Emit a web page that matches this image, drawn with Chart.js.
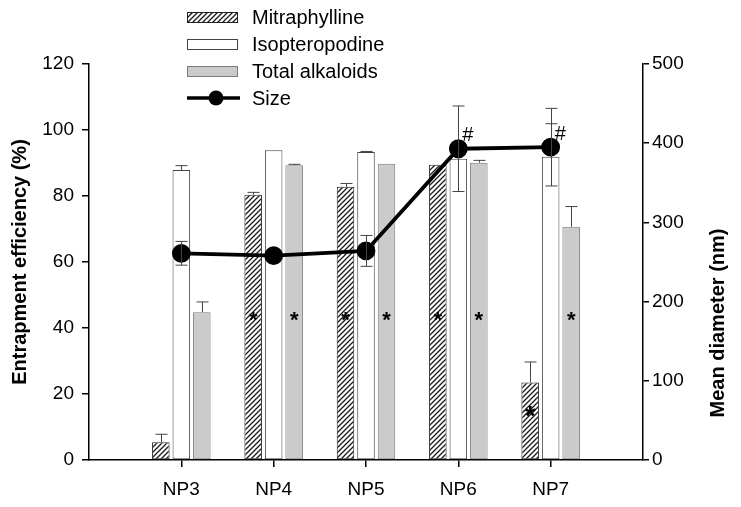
<!DOCTYPE html>
<html>
<head>
<meta charset="utf-8">
<script src="https://cdn.jsdelivr.net/npm/chart.js@4.4.0/dist/chart.umd.min.js"></script>
<style>
  html, body { margin: 0; padding: 0; background: #fff; }
  #wrap { width: 741px; height: 507px; position: relative; }
</style>
</head>
<body>
<div id="wrap"><canvas id="myChart"></canvas></div>
<script>
(function () {
    "use strict";

    // values
    const categories = ['NP3', 'NP4', 'NP5', 'NP6', 'NP7'];
    const mitraphylline = [5.4, 80.4, 82.8, 89.5, 23.5];
    const mitraphyllineErr = [2.4, 0.7, 1.0, 0, 6.2];
    const isopteropodine = [87.9, 93.9, 93.3, 91.3, 91.9];
    const isopteropodineErr = [1.3, 0, 0.2, 0, 10];
    const totalAlkaloids = [44.8, 89.3, 89.8, 90.1, 70.7];
    const totalAlkaloidsErr = [3.1, 0.3, 0, 0.7, 6.1];
    const sizeNm = [261, 258, 264, 393, 395];
    const sizeErr = [15, 0, 19.5, 54, 49];
    // significance marks (placed at a value on the left axis)
    const mitraStars = [null, 43.5, 43.5, 43.5, 14.6];
    const totalStars = [null, 43.5, 43.5, 43.5, 43.5];
    const sizeMarks = ['', '', '', '#', '#'];

    const FONT = "'Liberation Sans', Arial, sans-serif";
    Chart.defaults.font.family = FONT;
    Chart.defaults.color = '#000';

    // empty slot on each side of the groups
    const pad = arr => [null, ...arr, null];
    const labels = ['', ...categories, ''];

    function hatch() {
        const c = document.createElement('canvas');
        c.width = 5; c.height = 5;
        const g = c.getContext('2d');
        g.fillStyle = '#fff';
        g.fillRect(0, 0, 5, 5);
        g.strokeStyle = '#1a1a1a';
        g.lineWidth = 1.3;
        g.beginPath();
        g.moveTo(-1, 6); g.lineTo(6, -1);
        g.moveTo(-1, 1); g.lineTo(1, -1);
        g.moveTo(4, 6); g.lineTo(6, 4);
        g.stroke();
        return g.createPattern(c, 'repeat');
    }
    const hatchFill = hatch();

    const errorBars = {
        id: 'errorBars',
        afterDatasetsDraw(chart) {
            const ctx = chart.ctx;
            ctx.save();
            ctx.strokeStyle = '#444';
            ctx.lineWidth = 1;
            chart.data.datasets.forEach((ds, i) => {
                if (!ds.errors) return;
                const meta = chart.getDatasetMeta(i);
                const scale = chart.scales[meta.yAxisID];
                const isLine = ds.type === 'line';
                meta.data.forEach((el, j) => {
                    const v = ds.data[j], e = ds.errors[j];
                    if (v == null || !e) return;
                    const x = Math.round(el.x) + 0.5;
                    const top = scale.getPixelForValue(v + e);
                    const bot = isLine ? scale.getPixelForValue(v - e) : el.y;
                    const cw = 6;
                    ctx.beginPath();
                    ctx.moveTo(x, bot); ctx.lineTo(x, top);
                    ctx.moveTo(x - cw, top); ctx.lineTo(x + cw, top);
                    if (isLine) { ctx.moveTo(x - cw, bot); ctx.lineTo(x + cw, bot); }
                    ctx.stroke();
                });
            });
            ctx.restore();
        }
    };

    const extras = {
        id: 'extras',
        afterDraw(chart) {
            const ctx = chart.ctx;
            const y = chart.scales.y;
            ctx.save();
            ctx.fillStyle = '#000';

            // asterisks on bars
            chart.data.datasets.forEach((ds, i) => {
                if (!ds.stars) return;
                const meta = chart.getDatasetMeta(i);
                meta.data.forEach((el, j) => {
                    const s = ds.stars[j];
                    if (s == null) return;
                    const big = ds.data[j] < s + 15;
                    ctx.font = (big ? 'bold 27px ' : 'bold 22px ') + FONT;
                    ctx.textAlign = 'center';
                    ctx.textBaseline = 'alphabetic';
                    ctx.fillText('*', el.x, y.getPixelForValue(s) + (big ? 13 : 11));
                });
            });

            // # next to size points
            const li = chart.data.datasets.findIndex(d => d.type === 'line');
            const lmeta = chart.getDatasetMeta(li);
            const marks = chart.data.datasets[li].marks;
            ctx.font = '20px ' + FONT;
            ctx.textAlign = 'left';
            ctx.textBaseline = 'middle';
            lmeta.data.forEach((el, j) => {
                if (marks[j]) ctx.fillText(marks[j], el.x + 4, el.y - 13);
            });

            // legend
            const lx = 187, sw = 50, sh = 10, tx = 252, y0 = 17, step = 27;
            ctx.font = '20px ' + FONT;
            ctx.textAlign = 'left';
            ctx.textBaseline = 'middle';
            chart.data.datasets.forEach((ds, i) => {
                const cy = y0 + i * step;
                if (ds.type === 'line') {
                    ctx.strokeStyle = '#000';
                    ctx.lineWidth = 3.5;
                    ctx.beginPath();
                    ctx.moveTo(lx, cy); ctx.lineTo(lx + 53, cy);
                    ctx.stroke();
                    ctx.beginPath();
                    ctx.arc(lx + 29, cy, 7.5, 0, Math.PI * 2);
                    ctx.fill();
                } else {
                    ctx.fillStyle = ds.backgroundColor;
                    ctx.fillRect(lx, cy - sh / 2, sw, sh);
                    ctx.strokeStyle = ds.borderColor;
                    ctx.lineWidth = 1;
                    ctx.strokeRect(lx + 0.5, cy - sh / 2 + 0.5, sw, sh);
                }
                ctx.fillStyle = '#000';
                ctx.fillText(ds.label, tx, cy + 1);
            });

            // right axis title, reading bottom to top
            ctx.font = 'bold 20px ' + FONT;
            ctx.textAlign = 'center';
            ctx.textBaseline = 'middle';
            ctx.translate(718, 323);
            ctx.rotate(-Math.PI / 2);
            ctx.fillText('Mean diameter (nm)', 0, 0);
            ctx.restore();
        }
    };

    const ctx = document.getElementById('myChart').getContext('2d');
    new Chart(ctx, {
        type: 'bar',
        data: {
            labels: labels,
            datasets: [{
                label: 'Mitraphylline',
                data: pad(mitraphylline),
                errors: pad(mitraphyllineErr),
                stars: pad(mitraStars),
                backgroundColor: hatchFill,
                borderColor: '#222',
                borderWidth: 1,
                borderSkipped: false,
                yAxisID: 'y',
                order: 1
            },
            {
                label: 'Isopteropodine',
                data: pad(isopteropodine),
                errors: pad(isopteropodineErr),
                backgroundColor: '#fff',
                borderColor: '#444',
                borderWidth: 1,
                borderSkipped: false,
                yAxisID: 'y',
                order: 1
            },
            {
                label: 'Total alkaloids',
                data: pad(totalAlkaloids),
                errors: pad(totalAlkaloidsErr),
                stars: pad(totalStars),
                backgroundColor: '#cbcbcb',
                borderColor: '#7a7a7a',
                borderWidth: 1,
                borderSkipped: false,
                yAxisID: 'y',
                order: 1
            },
            {
                type: 'line',
                label: 'Size',
                data: pad(sizeNm),
                errors: pad(sizeErr),
                marks: pad(sizeMarks),
                yAxisID: 'y1',
                borderColor: '#000',
                borderWidth: 3.8,
                pointRadius: 7.5,
                pointBackgroundColor: '#000',
                pointBorderColor: '#000',
                tension: 0,
                order: 0
            }]
        },
        options: {
            responsive: true,
            maintainAspectRatio: false,
            animation: false,
            layout: { padding: { top: 64, left: 0, right: 0, bottom: 0 } },
            datasets: { bar: { categoryPercentage: 0.666, barPercentage: 0.855 } },
            plugins: {
                legend: { display: false },
                tooltip: { enabled: false }
            },
            scales: {
                x: {
                    offset: false,
                    grid: {
                        offset: false,
                        drawOnChartArea: false,
                        tickLength: 7,
                        lineWidth: 1.5,
                        color: c => (c.tick && c.tick.label) ? '#000' : 'rgba(0,0,0,0)'
                    },
                    border: { color: '#000', width: 1.5 },
                    ticks: { font: { size: 19 }, padding: 11, autoSkip: false, maxRotation: 0 },
                    afterFit: s => { s.height = 47; }
                },
                y: {
                    position: 'left',
                    min: 0,
                    max: 120,
                    ticks: { stepSize: 20, font: { size: 19 }, padding: 8 },
                    grid: { drawOnChartArea: false, tickLength: 7, lineWidth: 1.5, color: '#000' },
                    border: { color: '#000', width: 1.5 },
                    title: {
                        display: true,
                        text: 'Entrapment efficiency (%)',
                        font: { size: 20, weight: 'bold' },
                        padding: { top: 8, bottom: 0 }
                    },
                    afterFit: s => { s.width = 89; }
                },
                y1: {
                    position: 'right',
                    min: 0,
                    max: 500,
                    ticks: { stepSize: 100, font: { size: 19 }, padding: 3 },
                    grid: { drawOnChartArea: false, tickLength: 6, lineWidth: 1.5, color: '#000' },
                    border: { color: '#000', width: 1.5 },
                    afterFit: s => { s.width = 98; }
                }
            }
        },
        plugins: [errorBars, extras]
    });
})();
</script>
</body>
</html>
